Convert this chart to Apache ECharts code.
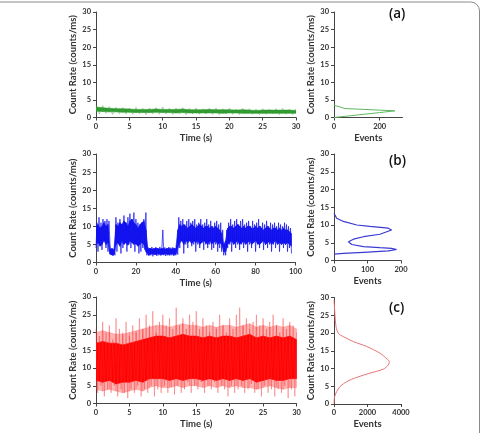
<!DOCTYPE html>
<html>
<head>
<meta charset="utf-8">
<script src="https://cdn.jsdelivr.net/npm/echarts@6/dist/echarts.min.js"></script>
<style>
  html, body { margin: 0; padding: 0; background: #fff; }
  #chart { width: 482px; height: 433px; }
</style>
</head>
<body>
<div id="chart"></div>
<script>
// tick labels
const timeTicksAC = [0, 5, 10, 15, 20, 25, 30];
const timeTicksB = [0, 20, 40, 60, 80, 100];
const rateTicks = [0, 5, 10, 15, 20, 25, 30];

// (a) trace: core band read every 1 s, spikes every 0.5 s
const aBandStep = 1;
const aLow = [1.8,1.7,1.6,1.6,1.5,1.5,1.4,1.4,1.4,1.5,1.4,1.4,1.3,1.4,1.3,1.3,1.3,1.3,1.3,1.2,1.3,1.3,1.2,1.2,1.2,1.2,1.2,1.2,1.2,1.2,1.2];
const aHigh = [3.0,2.8,2.6,2.5,2.5,2.4,2.3,2.3,2.3,2.4,2.3,2.3,2.3,2.4,2.2,2.2,2.2,2.3,2.2,2.2,2.2,2.1,2.2,2.1,2.0,2.1,2.1,2.1,2.1,2.1,2.0];
const aSpikeStep = 0.5;
const aSpikes = [3.6,1.0,3.4,1.2,3.1,0.9,2.9,1.1,2.8,1.0,2.7,0.9,2.9,1.1,2.6,0.8,2.7,1.0,2.8,0.9,
  3.0,1.0,2.6,0.9,2.7,1.1,2.8,0.8,2.6,1.0,2.7,0.9,2.5,1.0,2.6,0.9,2.7,0.8,2.5,1.0,
  2.6,0.9,2.4,0.8,2.6,1.0,2.5,0.9,2.4,0.8,2.5,0.9,2.4,1.0,2.5,0.8,2.6,0.9,2.4,0.8,2.5];

// (a) histogram
const aHistRate = [0, 0.55, 1.4, 1.9, 2.55, 3.5];
const aHistEvents = [0, 0, 200, 267, 48, 0];

// (b) trace: core band every 1 s, raw trace every 0.5 s
const bBandStep = 1;
const bLow = [5,5.5,4.5,5,6,5,5.5,
  2.3,2.1,2.2,
  5,5.5,4.5,6,5,5.5,4.8,6,5.5,5,5.2,4.5,5,5.5,5,
  3,
  2.3,2.2,2.4,2.3,2.2,2.4,2.3,2.2,2.3,2.4,2.2,2.3,2.4,2.2,2.3,
  4,
  5.5,6,5,6,5.5,6,5.2,6,5.5,6,5,5.5,6,5.5,5,6,5.2,5.5,6,5,5.5,5,
  3,3,
  5,5.5,6,5,5.5,6,5,5.5,5.8,5,5.5,6,5,5.5,6,5.2,5,5.5,6,5,5.5,5.8,5,5.5,6,5,5.5,5,5.5,5,5.5,5,4.5];
const bHigh = [10,10.5,9.5,10,11,10,10.5,
  3.6,3.8,3.5,
  10.5,10,11,10.5,11.5,11,10,11.5,12,11,10.5,9.5,10.5,11,11.5,
  9,
  3.8,3.9,3.7,3.8,4,3.8,3.7,3.9,3.8,3.7,3.9,3.8,3.7,3.9,3.8,
  9,
  10.5,10,10.5,10,9.5,10,10.5,10,9.5,10,10.5,10,9.5,10,10,9.5,10,9.5,10,9.5,9,8,
  5,6,
  9.5,10,10,9.5,10,10.5,10,9.5,10,9.5,10,10,9.5,9.5,10,9.5,10,9.5,9,9.5,10,9.5,9,9.5,9.5,9,9.5,9,9.5,9,9,8.5,8];
const bStep = 0.5;
const bTrace = [
  4,11,3,12.5,5,11,3.5,12,6,11.5,
  4,12,3,11.5,5,2.5,4,1.8,3.8,2,
  12.5,3,11,5,12,2.5,10.5,4,13,6,
  11,3,12.5,5,13.5,4,12,6,13.8,3,
  12,5,11,2.5,9,3,11,4,12,3.5,
  13.8,2,4.2,1.8,4,2,4.3,1.7,3.9,2.1,
  4.2,1.8,4,2,4.3,1.9,4,9,2,4.2,
  1.8,4,2,4.3,1.9,4.1,2,4.2,1.8,4,
  2,4.3,2.2,12.5,4,11.5,6,12,2.5,10.5,
  5,11.5,4,12,6,11,4.5,11.5,5,12,
  3,10.5,5,11,4,12,5.5,10.5,3.5,11,
  5,12,4,10.5,5,11.5,3.5,10,4,11,
  5,11.5,3,10.5,4,11,3,9,2,4,
  2,9,4,11,5,12,3,10.5,6,11.5,
  4,12,5,10.5,3.5,11.5,5,12,4,10.5,
  6,11,3,11.5,5,10,4,11.5,5.5,10.5,
  3,11,5,12,4,10,6,11,3.5,10.5,
  5,11.5,4,10,5,11,3,10.5,5,11,
  4,10,5.5,11,3,10.5,5,10,4,11,
  5,10.5,3,10,4,9.5,
  2.5
];

// (b) histogram
const bHistRate = [13.3,11.9,11.0,10.0,9.6,9.1,8.6,8.1,7.4,6.7,6.0,5.3,4.5,3.9,3.6,3.4,3.1,2.7,2.3,2.0,1.8];
const bHistEvents = [0,8,28,68,107,162,172,167,137,88,58,43,53,88,137,172,187,162,88,28,0];

// (c) trace: solid core and pink outer band every 1 s, spikes every 0.25 s
const cBandStep = 1;
const cLow = [6.5,6,6.5,5.5,6,6,6.5,6,7,7,7,6.5,7,6.5,7,7,6.5,7,6.5,7,6.5,7,6.5,7,6,6.5,7,6.5,6.5,7,7];
const cHigh = [17,17.5,17,17,16.5,17,17.5,18,18.5,19,19,18.5,19,19.5,19,19,18.5,19,18.5,19,19,18.5,19,19.5,18.5,19,18.5,19,18.5,19,18];
const cOuterLow = [4,3.5,4,3.5,3,3.5,4,3.5,4.5,5,4.5,4.5,5,4.5,5,5,4.5,5,4.5,5,4.5,5,4.5,4.5,4,4.5,5,4.5,4,4.5,4.5];
const cOuterHigh = [20,20.5,20,19.5,19.5,20,20.5,21,21.5,22,22,21.5,22,22.5,22,22,21.5,22,21.5,22,22,21.5,22,22.5,21.5,22,21.5,22,21.5,22,21];
const cSpikeStep = 0.25;
const cSpikes = [
  21,3,19,5,23,2,20,4,22,3,18,5,24,2,21,4,20,3,23,1.5,19,
  4,22,3,20,5,24,2,21,4,25,3,22,5,26,2,20,4,23,3,25,
  5,22,3,24,4.5,21,2.5,27,5,22,3,24,4,21,6,25,3,23,5,26,
  4,21,6,24,3,22,5,20,4,23,6,21,3,25,5,22,4,20,2,24,
  5,21,3,25,4,27,5,22,3,24,4,21,5.5,23,3,25,4,22,2,24,
  5,21,3,23,4,25,2,22,4,20,3,24,5,21,1.5,23,4,22,2,20
];

// (c) histogram
const cHistRate = [29.3,25,21.8,19.9,19.0,17.6,16.2,14.3,12.6,12.0,11.0,9.8,8.7,7.5,6.3,4.9,3.5,2.1,0.2];
const cHistEvents = [0,60,120,260,550,1150,1950,2750,3180,3300,3240,2940,2150,1360,760,360,160,40,0];

const FONT = 'Lato';
const INK = '#333';

function pairs(step, vals) {
  return vals.map((v, i) => [i * step, v]);
}
function zip(xs, ys) {
  return xs.map((x, i) => [x, ys[i]]);
}

function makeAxis(gridIndex, ticks, name, opts) {
  return Object.assign({
    type: 'value',
    gridIndex: gridIndex,
    min: ticks[0],
    max: ticks[ticks.length - 1],
    interval: ticks[1] - ticks[0],
    name: name,
    nameLocation: 'middle',
    nameTextStyle: { fontFamily: FONT, fontWeight: 'bold', fontSize: 9.5, color: INK },
    axisLine: { show: true, onZero: false, lineStyle: { color: '#444', width: 1 } },
    axisTick: { show: true, length: 3, lineStyle: { color: '#444' } },
    axisLabel: { fontFamily: FONT, fontWeight: 'bold', fontSize: 7.5, color: INK, margin: 5,
      formatter: v => String(v) },
    splitLine: { show: false }
  }, opts || {});
}

const grids = [
  { left: 96, top: 12, width: 200, height: 105.5 },
  { left: 334, top: 12, width: 68.5, height: 105.5 },
  { left: 96, top: 154, width: 199.5, height: 108.5 },
  { left: 334, top: 154, width: 67, height: 106.5 },
  { left: 96, top: 297, width: 200.5, height: 106.5 },
  { left: 334, top: 297.5, width: 67, height: 106.5 }
];

const xAxes = [
  makeAxis(0, timeTicksAC, 'Time (s)', { nameGap: 15 }),
  makeAxis(1, [0, 200, 400], 'Events', { max: 300, nameGap: 15,
    axisLabel: { fontFamily: FONT, fontWeight: 'bold', fontSize: 7.5, color: INK, margin: 5, showMaxLabel: false } }),
  makeAxis(2, timeTicksB, 'Time (s)', { nameGap: 15 }),
  makeAxis(3, [0, 100, 200], 'Events', { nameGap: 15 }),
  makeAxis(4, timeTicksAC, 'Time (s)', { nameGap: 15 }),
  makeAxis(5, [0, 2000, 4000], 'Events', { nameGap: 15 })
];
const yAxes = [0, 1, 2, 3, 4, 5].map(i => makeAxis(i, rateTicks, 'Count Rate (counts/ms)', { nameGap: 16 }));

// filled band between a lower and an upper envelope, one quad per sample step
function band(xi, step, lo, hi, color) {
  const n = Math.min(lo.length, hi.length);
  const data = [];
  for (let i = 0; i < n - 1; i++) {
    data.push([i * step, lo[i], hi[i], (i + 1) * step, lo[i + 1], hi[i + 1]]);
  }
  return {
    type: 'custom', xAxisIndex: xi, yAxisIndex: xi, data: data, silent: true, clip: true,
    encode: { x: [0, 3], y: [1, 2, 4, 5] },
    renderItem: function (params, api) {
      const t0 = api.value(0), t1 = api.value(3);
      const pts = [
        api.coord([t0, api.value(2)]),
        api.coord([t1, api.value(5)]),
        api.coord([t1, api.value(4)]),
        api.coord([t0, api.value(1)])
      ];
      return { type: 'polygon', shape: { points: pts },
        style: { fill: color, stroke: color, lineWidth: 0.6 } };
    }
  };
}

const series = [
  // (a)
  { type: 'line', xAxisIndex: 0, yAxisIndex: 0, data: pairs(aSpikeStep, aSpikes), showSymbol: false,
    lineStyle: { color: 'rgba(60,160,60,0.55)', width: 0.8 } },
  band(0, aBandStep, aLow, aHigh, '#2f9a2f'),
  { type: 'line', xAxisIndex: 1, yAxisIndex: 1, data: zip(aHistEvents, aHistRate), showSymbol: false,
    lineStyle: { color: '#5fb85f', width: 1 } },
  // (b)
  { type: 'line', xAxisIndex: 2, yAxisIndex: 2, data: pairs(bStep, bTrace), showSymbol: false,
    lineStyle: { color: 'rgba(20,20,240,0.8)', width: 0.9 } },
  band(2, bBandStep, bLow, bHigh, '#1010ee'),
  { type: 'line', xAxisIndex: 3, yAxisIndex: 3, data: zip(bHistEvents, bHistRate), showSymbol: false,
    lineStyle: { color: '#3a3ad2', width: 1.2 } },
  // (c)
  band(4, cBandStep, cOuterLow, cOuterHigh, 'rgba(255,40,40,0.35)'),
  { type: 'line', xAxisIndex: 4, yAxisIndex: 4, data: pairs(cSpikeStep, cSpikes), showSymbol: false,
    lineStyle: { color: 'rgba(250,50,50,0.45)', width: 0.8 } },
  band(4, cBandStep, cLow, cHigh, '#ff0000'),
  { type: 'line', xAxisIndex: 5, yAxisIndex: 5, data: zip(cHistEvents, cHistRate), showSymbol: false, smooth: 0.3,
    lineStyle: { color: '#e87474', width: 1 } }
];

const chart = echarts.init(document.getElementById('chart'), null, { renderer: 'canvas' });
chart.setOption({
  animation: false,
  backgroundColor: '#fff',
  textStyle: { fontFamily: FONT },
  grid: grids,
  xAxis: xAxes,
  yAxis: yAxes,
  series: series,
  graphic: [
    { type: 'rect', shape: { x: -20, y: 2, width: 499.5, height: 470, r: 9 },
      style: { fill: 'none', stroke: '#8a8a8a', lineWidth: 1 }, silent: true },
    { type: 'text', left: 389, top: 7, style: { text: '(a)', fontFamily: 'Open Sans', fontWeight: 600, fontSize: 13.5, fill: '#111' } },
    { type: 'text', left: 389, top: 154, style: { text: '(b)', fontFamily: 'Open Sans', fontWeight: 600, fontSize: 13.5, fill: '#111' } },
    { type: 'text', left: 389, top: 301, style: { text: '(c)', fontFamily: 'Open Sans', fontWeight: 600, fontSize: 13.5, fill: '#111' } }
  ]
});
</script>
</body>
</html>
